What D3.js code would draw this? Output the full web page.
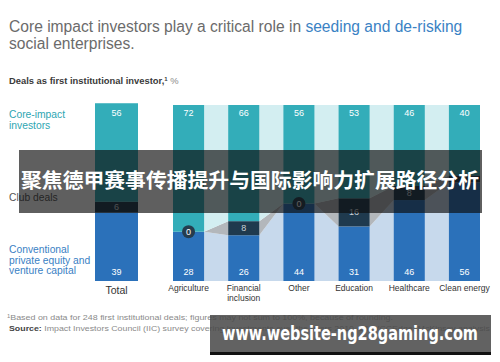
<!DOCTYPE html>
<html>
<head>
<meta charset="utf-8">
<script src="https://cdn.jsdelivr.net/npm/d3@7"></script>
<style>
  body { margin: 0; background: #fff; }
  svg { display: block; font-family: "Liberation Sans", Arial, sans-serif; }
</style>
</head>
<body>
<div id="chart"></div>
<script>
// data, % of deals as first institutional investor
const categories = ["Total", "Agriculture", "Financial inclusion", "Other", "Education", "Healthcare", "Clean energy"];
const coreImpact = [56, 72, 66, 56, 53, 46, 40];
const clubDeals = [6, 0, 8, 0, 16, 8, 4];
const conventional = [39, 28, 26, 44, 31, 46, 56];

const width = 500, height = 362;
const colors = { core: "#33adb9", club: "#1f3a4e", conv: "#2b71ba" };
const bandColors = { core: "#d3eef1", club: "#b3b7bb", conv: "#c7d9ec" };

const rows = categories.map((c, i) => ({ cat: c, conv: conventional[i], club: clubDeals[i], core: coreImpact[i] }));
const keys = ["conv", "club", "core"];
const series = d3.stack().keys(keys)(rows);

const svg = d3.select("#chart").append("svg")
    .attr("width", width)
    .attr("height", height);

const y = d3.scaleLinear().domain([0, 100]).range([281, 105]);
const xCat = d3.scaleBand()
    .domain(categories.slice(1))
    .range([173, 480])
    .paddingInner(0.436)
    .paddingOuter(0);

function barX(i) { return i === 0 ? 95 : xCat(categories[i]); }
function barW(i) { return i === 0 ? 43 : xCat.bandwidth(); }

// title
const title = svg.append("text").attr("x", 9).attr("y", 32)
    .attr("font-size", 15.6).attr("fill", "#6b6b6b");
title.append("tspan").text("Core impact investors play a critical role in ");
title.append("tspan").attr("fill", "#3a82c4").text("seeding and de-risking");
svg.append("text").attr("x", 9).attr("y", 49)
    .attr("font-size", 15.6).attr("fill", "#6b6b6b").text("social enterprises.");

const sub = svg.append("text").attr("x", 9).attr("y", 84)
    .attr("font-size", 9.4).attr("font-weight", "bold").attr("fill", "#3a3a3a");
sub.append("tspan").text("Deals as first institutional investor,");
sub.append("tspan").attr("font-size", 6).attr("dy", -3).text("1");
sub.append("tspan").attr("dy", 3).attr("font-weight", "normal").attr("fill", "#888").text(" %");

// connecting bands between the sector bars
const bands = svg.append("g");
series.forEach(s => {
    for (let i = 1; i < rows.length - 1; i++) {
        const a = s[i], b = s[i + 1];
        const x0 = barX(i) + barW(i), x1 = barX(i + 1);
        bands.append("path")
            .attr("d", d3.line()([[x0, y(a[1])], [x1, y(b[1])], [x1, y(b[0])], [x0, y(a[0])]]) + "Z")
            .attr("fill", bandColors[s.key]);
    }
});

// bars
series.forEach(s => {
    svg.append("g").selectAll("rect").data(s).join("rect")
        .attr("x", (d, i) => barX(i))
        .attr("width", (d, i) => barW(i))
        .attr("y", d => y(d[1]))
        .attr("height", d => y(d[0]) - y(d[1]))
        .attr("fill", colors[s.key]);
});

// value labels
const lab = svg.append("g").attr("font-size", 9).attr("text-anchor", "middle");
series[2].forEach((d, i) => {
    lab.append("text").attr("x", barX(i) + barW(i) / 2).attr("y", y(100) + 11)
        .attr("fill", "#fff").text(d.data.core);
});
series[0].forEach((d, i) => {
    lab.append("text").attr("x", barX(i) + barW(i) / 2).attr("y", y(0) - 6)
        .attr("fill", "#fff").text(d.data.conv);
});
series[1].forEach((d, i) => {
    const cx = barX(i) + barW(i) / 2;
    if (d.data.club === 0) {
        lab.append("circle").attr("cx", cx).attr("cy", y(d[0])).attr("r", 6.5).attr("fill", "#253c4e");
        lab.append("text").attr("x", cx).attr("y", y(d[0]) + 3).attr("fill", "#fff").text("0");
    } else {
        lab.append("text").attr("x", cx).attr("y", (y(d[0]) + y(d[1])) / 2 + 3)
            .attr("fill", "#c9d0d6").text(d.data.club);
    }
});

// category labels
const xl = svg.append("g").attr("text-anchor", "middle").attr("fill", "#333");
categories.forEach((c, i) => {
    const cx = barX(i) + barW(i) / 2;
    if (i === 0) {
        xl.append("text").attr("x", cx).attr("y", 294).attr("font-size", 10.5).text(c);
    } else {
        const parts = c === "Financial inclusion" ? ["Financial", "inclusion"] : [c];
        parts.forEach((p, j) => xl.append("text").attr("x", cx).attr("y", 291 + j * 10)
            .attr("font-size", 8.5).text(p));
    }
});

// legend labels on the left
const legend = [
    { lines: ["Core-impact", "investors"], y: 118, fill: "#2ea6b2" },
    { lines: ["Club deals"], y: 201, fill: "#555" },
    { lines: ["Conventional", "private equity and", "venture capital"], y: 253, fill: "#3a7fc4" }
];
legend.forEach(l => l.lines.forEach((t, j) =>
    svg.append("text").attr("x", 9).attr("y", l.y + j * 10.5)
        .attr("font-size", 10.3).attr("fill", l.fill).text(t)));

// footnotes
const f1 = svg.append("text").attr("x", 7).attr("y", 320).attr("font-size", 7.6).attr("fill", "#8a8a8a")
    .attr("textLength", 386).attr("lengthAdjust", "spacingAndGlyphs");
f1.append("tspan").attr("font-size", 5).attr("dy", -2).text("1");
f1.append("tspan").attr("dy", 2).text("Based on data for 248 first institutional deals; figures may not sum to 100%, because of rounding.");
const f2 = svg.append("text").attr("x", 9).attr("y", 331).attr("font-size", 7.6).attr("fill", "#8a8a8a")
    .attr("textLength", 481).attr("lengthAdjust", "spacingAndGlyphs");
f2.append("tspan").attr("font-weight", "bold").attr("fill", "#444").text("Source: ");
f2.append("tspan").text("Impact Investors Council (IIC) survey covering investments over the years 2010\u201316; VCCEdge; McKinsey analysis");

// overlay banners
svg.append("rect").attr("x", 19).attr("y", 150).attr("width", 463).attr("height", 63)
    .attr("fill", "rgba(12,12,12,0.66)");
svg.append("text").attr("x", 250).attr("y", 188).attr("text-anchor", "middle")
    .attr("font-family", "'Noto Sans CJK SC', sans-serif").attr("font-weight", "bold")
    .attr("font-size", 20.5).attr("fill", "#fff")
    .attr("textLength", 458).attr("lengthAdjust", "spacingAndGlyphs")
    .text("聚焦德甲赛事传播提升与国际影响力扩展路径分析");

svg.append("rect").attr("x", 210).attr("y", 315).attr("width", 281).attr("height", 38)
    .attr("fill", "rgba(70,70,70,0.85)");
svg.append("rect").attr("x", 210).attr("y", 352).attr("width", 281).attr("height", 3)
    .attr("fill", "#111");
svg.append("text").attr("x", 222).attr("y", 340)
    .attr("font-family", "'DejaVu Sans', sans-serif").attr("font-weight", "bold")
    .attr("font-size", 19).attr("fill", "#fff")
    .attr("textLength", 256).attr("lengthAdjust", "spacingAndGlyphs")
    .text("www.website-ng28gaming.com");
</script>
</body>
</html>
